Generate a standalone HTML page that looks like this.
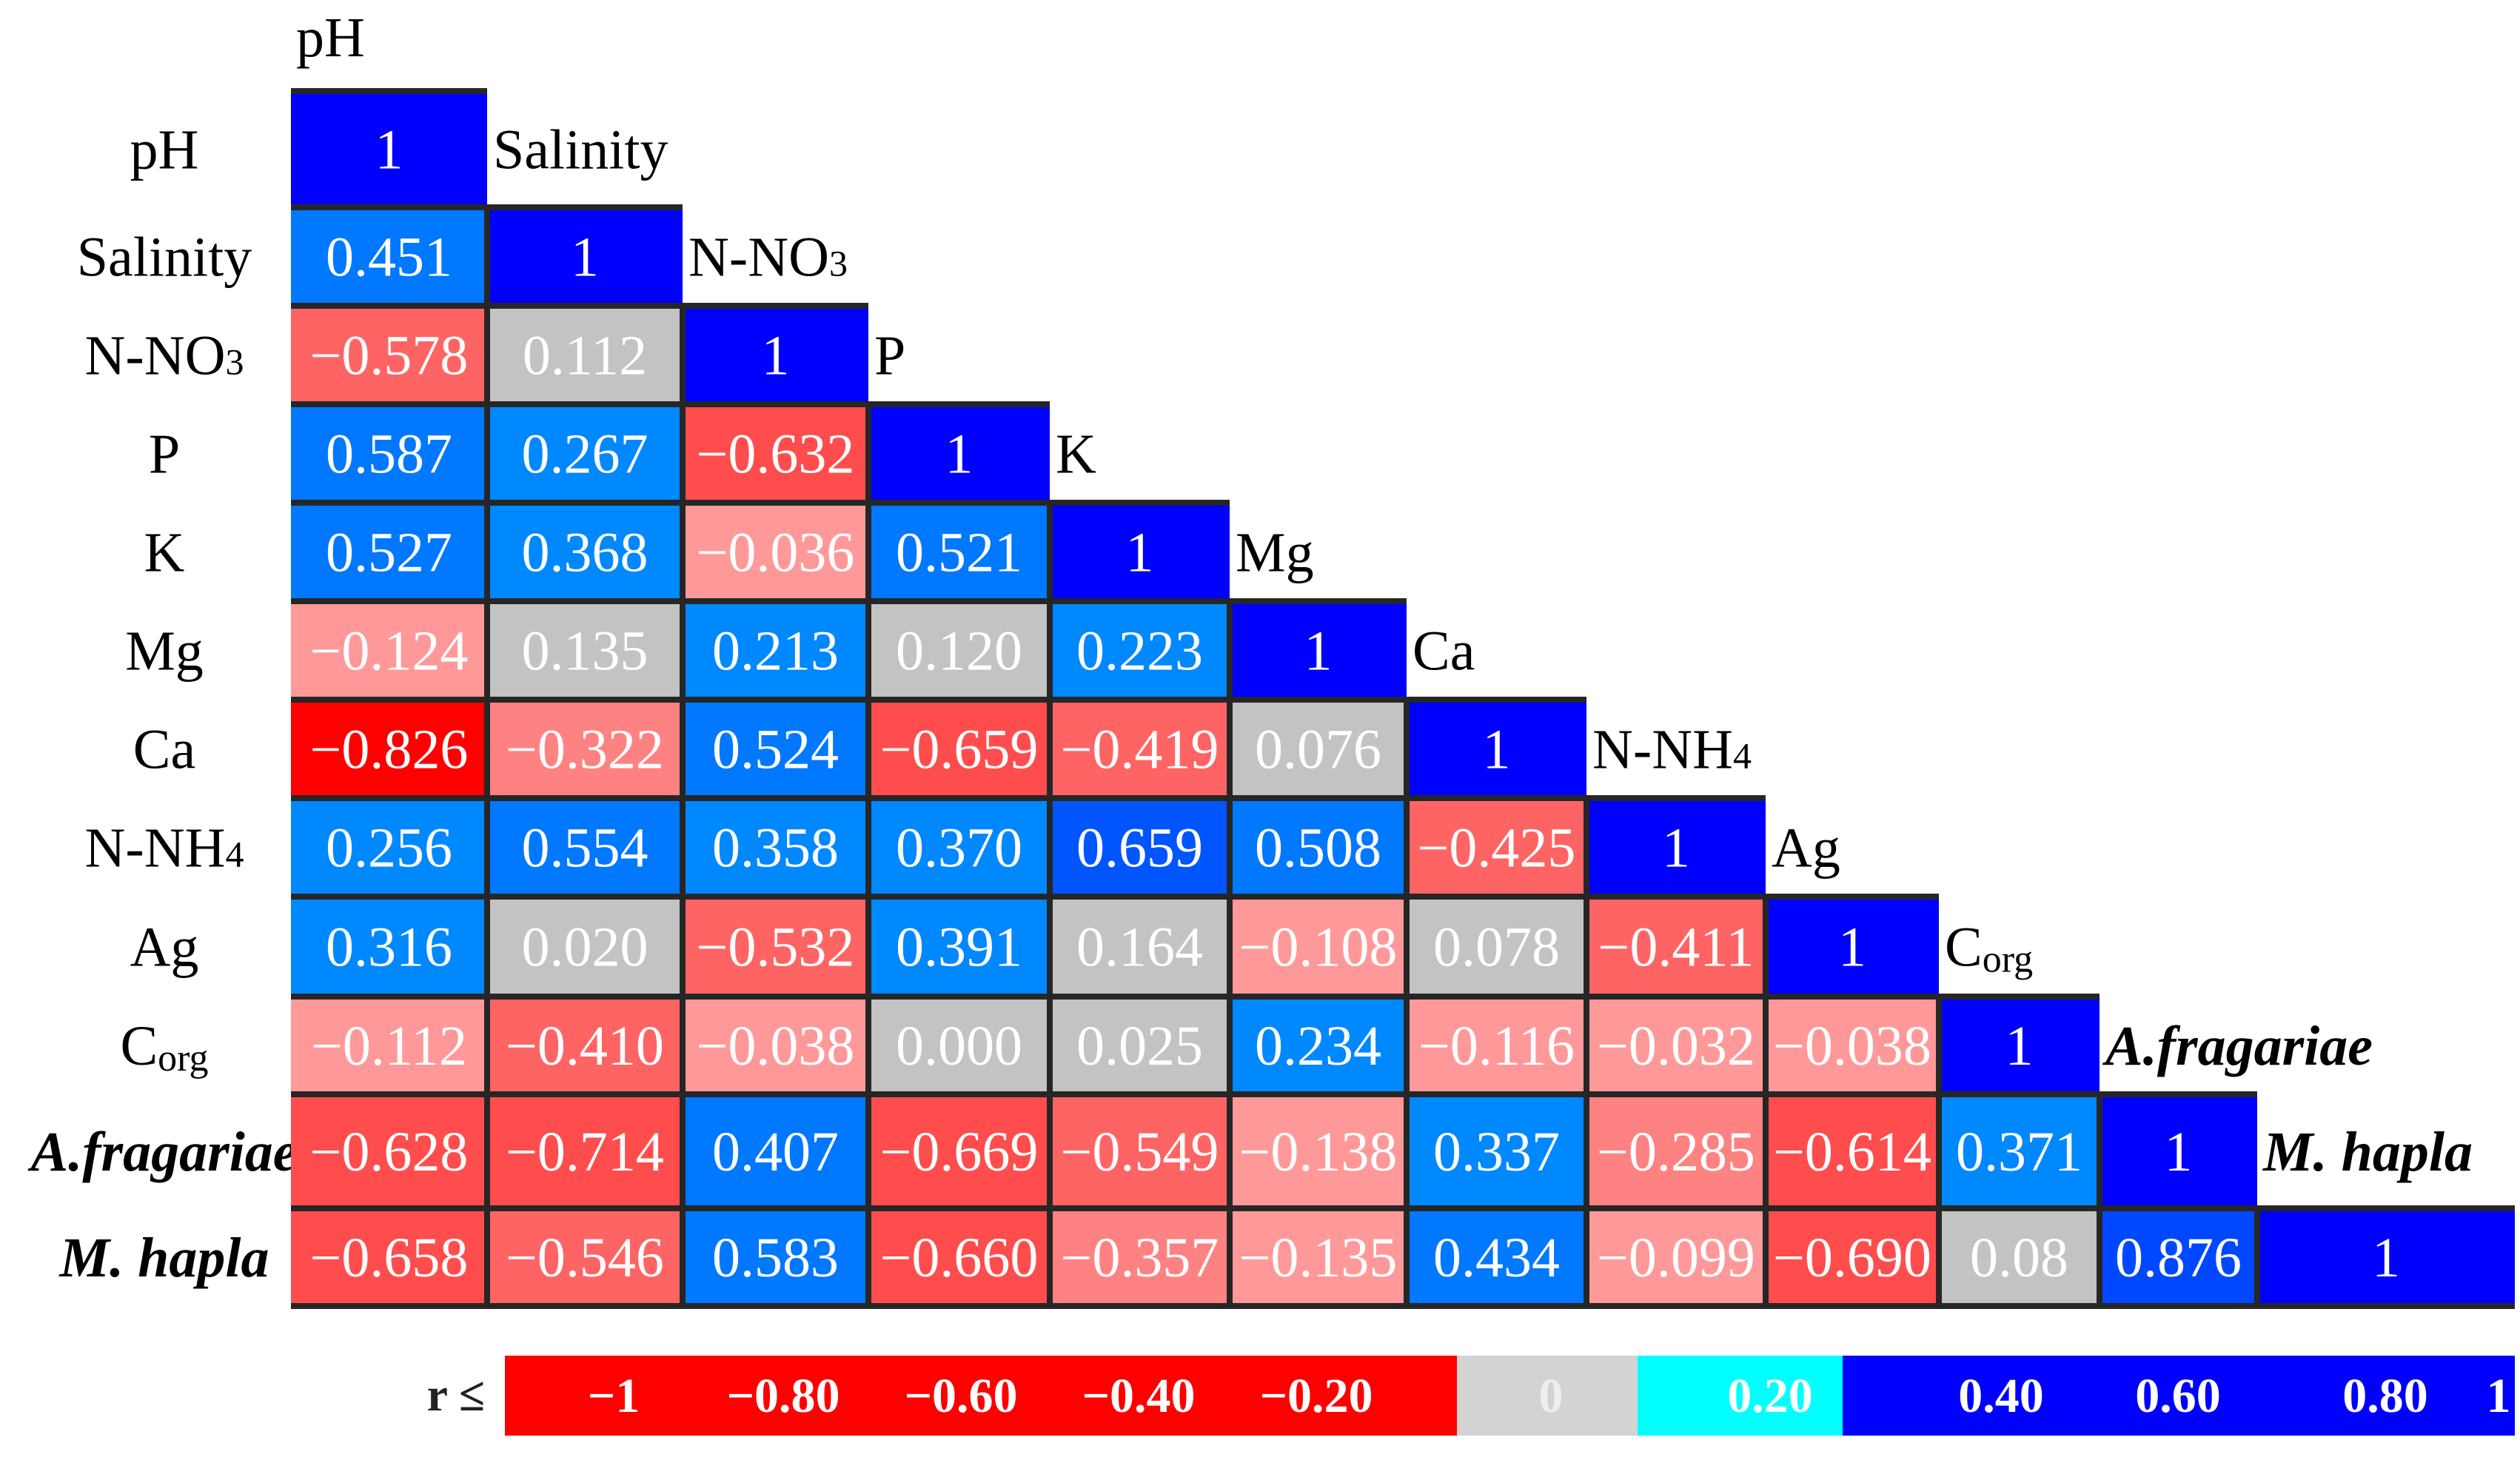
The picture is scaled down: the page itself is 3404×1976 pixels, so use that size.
<!DOCTYPE html>
<html><head><meta charset="utf-8"><style>
html,body{margin:0;padding:0;background:#fff;}
svg{display:block;}
text{font-family:"Liberation Serif",serif;}
</style></head><body>
<svg id="chart" width="3404" height="1976" viewBox="0 0 3404 1976" xmlns="http://www.w3.org/2000/svg">
<g id="cells"></g>
<g id="labels"></g>
<g id="legend"></g>
</svg>
<script>
const variables = ["pH","Salinity","N-NO3","P","K","Mg","Ca","N-NH4","Ag","Corg","A.fragariae","M. hapla"];
const corrRows = [
 [],
 ["0.451"],
 ["-0.578","0.112"],
 ["0.587","0.267","-0.632"],
 ["0.527","0.368","-0.036","0.521"],
 ["-0.124","0.135","0.213","0.120","0.223"],
 ["-0.826","-0.322","0.524","-0.659","-0.419","0.076"],
 ["0.256","0.554","0.358","0.370","0.659","0.508","-0.425"],
 ["0.316","0.020","-0.532","0.391","0.164","-0.108","0.078","-0.411"],
 ["-0.112","-0.410","-0.038","0.000","0.025","0.234","-0.116","-0.032","-0.038"],
 ["-0.628","-0.714","0.407","-0.669","-0.549","-0.138","0.337","-0.285","-0.614","0.371"],
 ["-0.658","-0.546","0.583","-0.660","-0.357","-0.135","0.434","-0.099","-0.690","0.08","0.876"]
];
const legendTicks = ["−1","−0.80","−0.60","−0.40","−0.20","0","0.20","0.40","0.60","0.80","1"];
const legendTickValues = [-1,-0.8,-0.6,-0.4,-0.2,0,0.2,0.4,0.6,0.8,1];

(function(){
const colEdges = [393,658,922,1173,1418,1661,1900,2143,2385,2619,2836,3049,3397];
const rowEdges = [123,280,413,546,679,812,945,1078,1211,1346,1478,1632,1764];
const NS = "http://www.w3.org/2000/svg";
function mk(tag, attrs, parent){const e=document.createElementNS(NS,tag);for(const k in attrs)e.setAttribute(k,attrs[k]);parent.appendChild(e);return e;}
function colorOf(v){
  if(v>=1) return "#0000ff";
  if(v>=0.8) return "#0048ff";
  if(v>=0.6) return "#0055ff";
  if(v>=0.4) return "#0078ff";
  if(v>=0.2) return "#0088ff";
  if(v>=0) return "#c3c3c3";
  if(v>=-0.2) return "#ff9999";
  if(v>=-0.4) return "#ff8282";
  if(v>=-0.6) return "#ff6464";
  if(v>=-0.8) return "#ff4d4d";
  return "#ff0000";
}
const cellsG=document.getElementById('cells');
const labelsG=document.getElementById('labels');
const nVars=variables.length;
for(let i=0;i<nVars;i++){
  const y0=rowEdges[i], y1=rowEdges[i+1], cy=(y0+y1)/2;
  for(let j=0;j<=i;j++){
    const x0=colEdges[j], x1=colEdges[j+1];
    const str = (j===i) ? "1" : corrRows[i][j];
    const v = parseFloat(str);
    const r=mk('rect',{x:x0,y:y0,width:x1-x0,height:y1-y0,fill:colorOf(v)},cellsG);
    
    
    const t=mk('text',{x:(x0+x1)/2,y:cy+26,'text-anchor':'middle','font-size':76,fill:'#fff'},cellsG);
    t.textContent=str.replace('-','−');
    
    
  }
}
for(let i=0;i<nVars;i++){
  const y0=rowEdges[i], y1=rowEdges[i+1];
  const l=mk('line',{x1:colEdges[0],x2:colEdges[i+1],y1:y0,y2:y0,stroke:'#262626','stroke-width':8},cellsG);
  
  
  for(let j=1;j<=i;j++){
    const v=mk('line',{x1:colEdges[j],x2:colEdges[j],y1:y0,y2:y1,stroke:'#262626','stroke-width':8},cellsG);
    
    
  }
}
const bottomLine=mk('line',{x1:colEdges[0],x2:colEdges[nVars],y1:rowEdges[nVars],y2:rowEdges[nVars],stroke:'#262626','stroke-width':8},cellsG);



function labelText(parent,name,x,y,anchor){
  const italic = (name==="A.fragariae"||name==="M. hapla");
  const t=mk('text',{x:x,y:y,'text-anchor':anchor,'font-size':76,fill:'#000'},parent);
  if(italic){t.setAttribute('font-style','italic');t.setAttribute('font-weight','bold');}
  if(name==="N-NO3"||name==="N-NH4"){
    t.textContent=name.slice(0,-1);
    const s=document.createElementNS(NS,'tspan');s.setAttribute('font-size',50);s.textContent=name.slice(-1);t.appendChild(s);
  } else if(name==="Corg"){
    t.textContent="C";
    const s=document.createElementNS(NS,'tspan');s.setAttribute('font-size',52);s.setAttribute('dy',8);s.textContent="org";t.appendChild(s);
  } else t.textContent=name;
  return t;
}
for(let i=0;i<nVars;i++){
  const cy=(rowEdges[i]+rowEdges[i+1])/2;
  const t=labelText(labelsG,variables[i],222,cy+26,'middle');
  
  
}
const topLabel=labelText(labelsG,"pH",400,76,'start');


for(let j=1;j<nVars;j++){
  const cy=(rowEdges[j-1]+rowEdges[j])/2;
  const t=labelText(labelsG,variables[j],colEdges[j]+8,cy+26,'start');
  
  
}
(function(){
  const i=10;
  const r=mk('rect',{x:colEdges[0],y:rowEdges[i]+4,width:colEdges[1]-colEdges[0]-4,height:rowEdges[i+1]-rowEdges[i]-8,fill:colorOf(parseFloat(corrRows[i][0]))},labelsG);
  
  
  const t=mk('text',{x:(colEdges[0]+colEdges[1])/2,y:(rowEdges[i]+rowEdges[i+1])/2+26,'text-anchor':'middle','font-size':76,fill:'#fff'},labelsG);
  t.textContent=corrRows[i][0].replace('-','−');
  
  
})();
const lg=document.getElementById('legend');
const legY0=1831, legY1=1939;
const legSegs=[[682,1968,'#ff0000'],[1968,2212,'#d3d3d3'],[2212,2489,'#00ffff'],[2489,3397,'#0000ff']];
legSegs.forEach((s,k)=>{
  const r=mk('rect',{x:s[0],y:legY0,width:s[1]-s[0],height:legY1-legY0,fill:s[2]},lg);
  
  
});
const tickX=[829,1058,1298,1538,1778,2095,2391,2703,2942,3222,3375];
const rl=mk('text',{x:655,y:1905,'text-anchor':'end','font-size':64,'font-weight':'bold',fill:'#222'},lg);
rl.textContent="r ≤";


legendTicks.forEach((s,k)=>{
  const t=mk('text',{x:tickX[k],y:1907,'text-anchor':'middle','font-size':66,'font-weight':'bold',fill:legendTickValues[k]===0?'#eeeeee':'#fff'},lg);
  t.textContent=s;
  
  
});
})();
</script>
</body></html>
